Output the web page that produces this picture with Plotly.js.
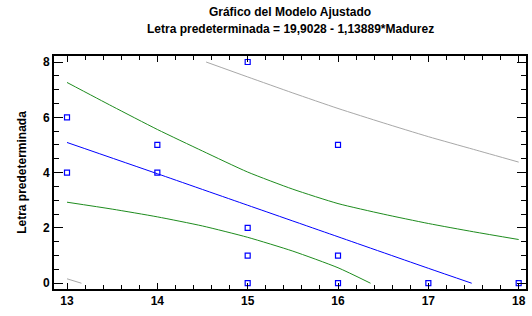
<!DOCTYPE html>
<html>
<head>
<meta charset="utf-8">
<script src="https://cdn.plot.ly/plotly-3.0.1.min.js"></script>
<style>html,body{margin:0;padding:0;background:#fff;}#chart{width:532px;height:316px;}</style>
</head>
<body>
<div id="chart"></div>
<script>
// Observed data
const madurez = [13, 13, 14, 14, 15, 15, 15, 15, 16, 16, 16, 17, 18];
const letra = [6, 4, 5, 4, 8, 2, 1, 0, 5, 1, 0, 0, 0];

// Fitted line
const fitX = [13, 14, 15, 16, 17, 17.48];
const fitY = [5.09, 3.96, 2.82, 1.68, 0.54, 0];

// Confidence limits (green)
const confUpX = [13, 13.5, 14, 14.5, 15, 15.5, 16, 16.5, 17, 17.5, 18];
const confUpY = [7.26, 6.4, 5.56, 4.78, 4.02, 3.4, 2.88, 2.5, 2.16, 1.86, 1.58];
const confLoX = [13, 13.5, 14, 14.5, 15, 15.5, 16, 16.36];
const confLoY = [2.93, 2.68, 2.4, 2.07, 1.66, 1.16, 0.56, 0];

// Prediction limits (gray)
const predUpX = [14.54, 15, 15.5, 16, 16.5, 17, 17.5, 18];
const predUpY = [8.0, 7.46, 6.88, 6.32, 5.8, 5.3, 4.84, 4.38];
const predLoX = [13, 13.16];
const predLoY = [0.16, 0];

const titleLine1 = 'Gráfico del Modelo Ajustado';
const titleLine2 = 'Letra predeterminada = 19,9028 - 1,13889*Madurez';
const yTitle = 'Letra predeterminada';

const font = {family: 'Liberation Sans, Arial, sans-serif', size: 12, color: '#000', weight: 'bold'};

const lineTrace = (x, y, color) => ({x, y, type: 'scatter', mode: 'lines', line: {color, width: 1, shape: 'spline', smoothing: 0.6}, hoverinfo: 'skip'});

const traces = [
  lineTrace(predUpX, predUpY, '#a8a8a8'),
  lineTrace(predLoX, predLoY, '#a8a8a8'),
  lineTrace(confUpX, confUpY, '#1e8c1e'),
  lineTrace(confLoX, confLoY, '#1e8c1e'),
  lineTrace(fitX, fitY, '#0000ff'),
  {x: madurez, y: letra, type: 'scatter', mode: 'markers',
   marker: {symbol: 'square-open', size: 5, color: '#0000ff', line: {width: 1.2, color: '#0000ff'}}}
];

const axisCommon = {
  showline: true, linecolor: '#000', linewidth: 2, mirror: 'allticks',
  ticks: 'inside', tickcolor: '#000', tickwidth: 1,
  showgrid: false, zeroline: false, tickfont: font
};

const layout = {
  width: 532, height: 316,
  margin: {l: 54, r: 6, t: 56, b: 27},
  paper_bgcolor: '#fff', plot_bgcolor: '#fff',
  showlegend: false,
  font: font,
  title: {text: titleLine1, font: font, x: 290/532, xanchor: 'center', xref: 'container', y: 1 - 12/316, yanchor: 'middle', yref: 'container'},
  annotations: [{text: titleLine2, xref: 'paper', yref: 'paper', x: 0.5, y: 1, yshift: 27, xanchor: 'center', yanchor: 'middle', showarrow: false, font: font}],
  xaxis: Object.assign({}, axisCommon, {
    range: [12.856, 18.081], dtick: 1, tick0: 13, ticklen: 6,
    minor: {dtick: 0.2, tick0: 13, ticks: 'inside', ticklen: 4, tickwidth: 1, tickcolor: '#000', showgrid: false}
  }),
  yaxis: Object.assign({}, axisCommon, {
    range: [-0.209, 8.217], dtick: 2, tick0: 0, ticklen: 9,
    minor: {dtick: 0.5, tick0: 0, ticks: 'inside', ticklen: 5, tickwidth: 1, tickcolor: '#000', showgrid: false},
    title: {text: yTitle, font: font, standoff: 14}
  })
};

Plotly.newPlot('chart', traces, layout, {displayModeBar: false, staticPlot: true});
</script>
</body>
</html>
